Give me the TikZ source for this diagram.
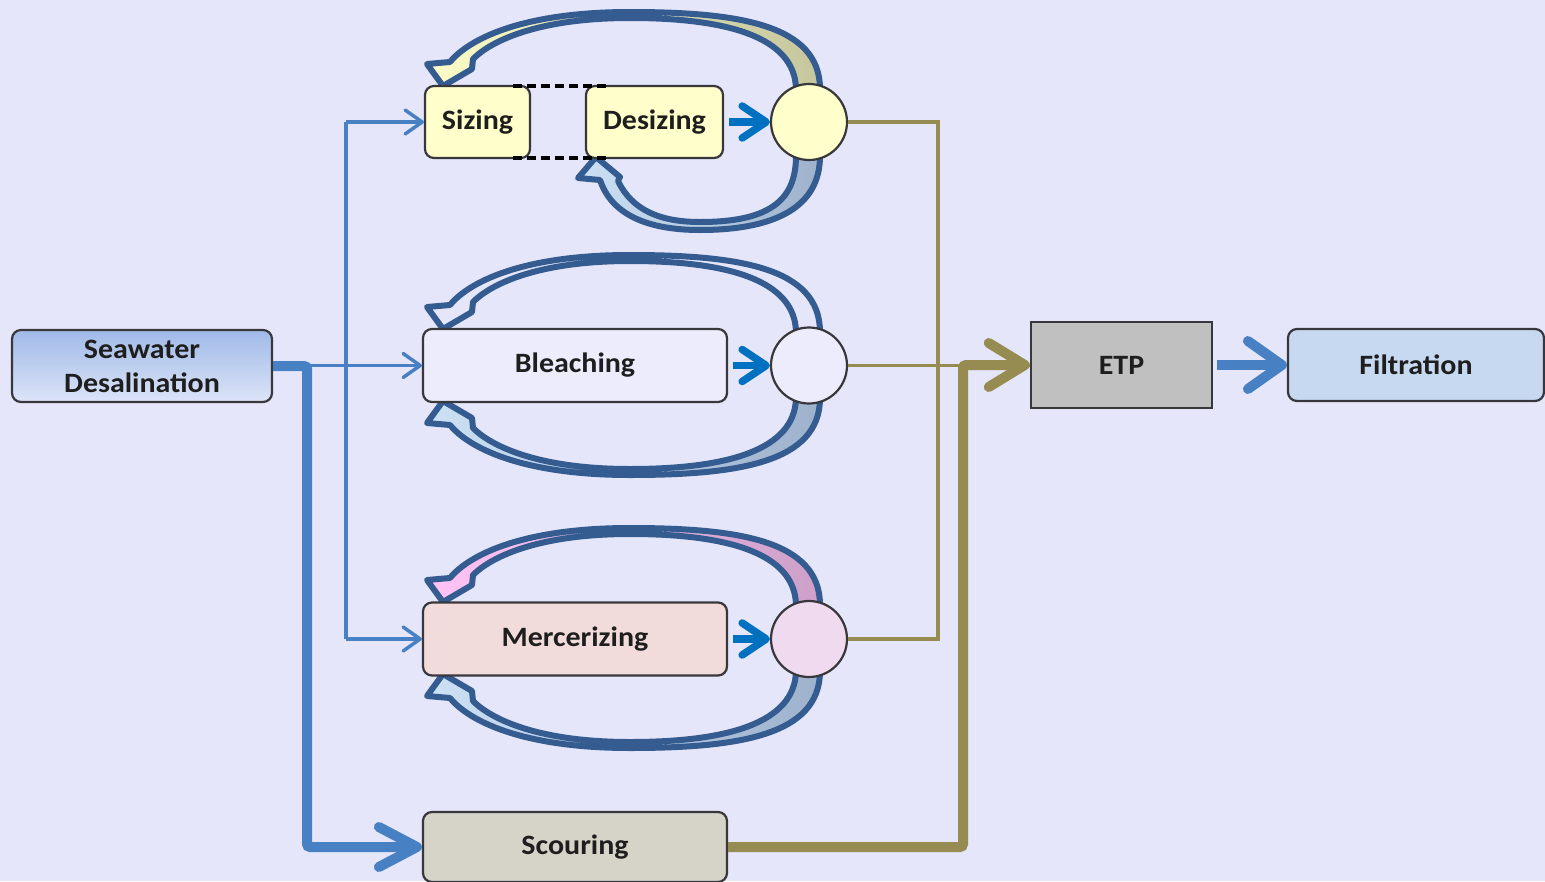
\documentclass[tikz,border=0pt]{standalone}
\usepackage{fontspec}
\setmainfont{Carlito}[FakeStretch=1.07]
\usetikzlibrary{arrows.meta}
\definecolor{bg}{RGB}{230,230,250}
\definecolor{boxline}{RGB}{55,55,60}
\definecolor{loopblue}{RGB}{52,92,145}
\definecolor{lineblue}{RGB}{72,128,196}
\definecolor{arrblue}{RGB}{0,112,192}
\definecolor{olive}{RGB}{150,140,82}
\definecolor{yel}{RGB}{255,255,204}
\definecolor{bleachfill}{RGB}{236,236,252}
\definecolor{mercfill}{RGB}{242,220,219}
\definecolor{mcirc}{RGB}{240,218,240}
\definecolor{scourfill}{RGB}{214,211,200}
\definecolor{etpfill}{RGB}{192,192,192}
\definecolor{filtfill}{RGB}{198,217,240}
\definecolor{seatop}{RGB}{160,186,232}
\definecolor{seabot}{RGB}{220,228,247}
\definecolor{yelA}{RGB}{252,252,200}
\definecolor{yelB}{RGB}{198,198,158}
\definecolor{bluA}{RGB}{205,225,245}
\definecolor{bluB}{RGB}{158,178,205}
\definecolor{pinkA}{RGB}{255,196,245}
\definecolor{pinkB}{RGB}{205,160,200}
\begin{document}
\begin{tikzpicture}[x=1pt,y=-1pt,
  box/.style={draw=boxline, line width=2.2pt, rounded corners=9pt, inner sep=0pt,
    font=\fontsize{28}{34}\selectfont\bfseries, align=center, text={rgb,255:red,30;green,30;blue,30}},
  circ/.style={circle, draw=boxline, line width=2.2pt, minimum size=76pt, inner sep=0pt},
  loopshape/.style={draw=loopblue, line width=6pt, line join=round},
  thinblue/.style={draw=lineblue, line width=3.5pt},
  thinarr/.style={thinblue, -{Straight Barb[length=17pt,width=24pt,round]}},
  thickblue/.style={draw=lineblue, line width=10pt, rounded corners=3pt, -{Straight Barb[length=38pt,width=40pt,round]}},
  shortarr/.style={draw=arrblue, line width=7.5pt, shorten <=5pt, -{Straight Barb[length=24pt,width=32pt,round]}},
  thinolive/.style={draw=olive, line width=3.5pt},
  thickolive/.style={draw=olive, line width=10pt, rounded corners=3pt, -{Straight Barb[length=36pt,width=44pt,round]}},
  bigarr/.style={draw=lineblue, line width=10pt, shorten <=4pt, -{Straight Barb[length=34pt,width=48pt,round]}}
]
\useasboundingbox (0,0) rectangle (1545,881);
\clip (0,0) rectangle (1545,881);
\fill[bg] (0,0) rectangle (1545,881);

% coordinates for connector bends
\coordinate (vthin) at (346,0);
\coordinate (vthick) at (307,0);
\coordinate (ox) at (938,0);
\coordinate (oT) at (963,0);

% ---- loops (drawn before boxes and circles) ----
\def\toploop{(450,62) -- (427,64) -- (443,86) -- (472,69) -- (473,59)
  .. controls (492,40) and (540,18) .. (630,18)
  .. controls (730,18) and (794,38) .. (796,88) -- (820,88)
  .. controls (819,25) and (740,12) .. (630,12)
  .. controls (520,12) and (468,40) .. (450,62) -- cycle}
% Sizing top loop
\draw[loopshape, left color=yelA, right color=yelB] \toploop;
% Sizing bottom loop (to Desizing)
\draw[loopshape, left color=bluA, right color=bluB]
  (600,180) -- (578,178) -- (596,157) -- (620,177) -- (618,181)
  .. controls (632,210) and (660,222) .. (700,222)
  .. controls (770,222) and (796,200) .. (796,156) -- (820,156)
  .. controls (820,210) and (770,230) .. (700,230)
  .. controls (640,230) and (610,210) .. (600,180) -- cycle;
% Bleaching loops
\begin{scope}[shift={(0,243)}]
  \draw[loopshape, fill=bg] \toploop;
\end{scope}
\begin{scope}[shift={(0,487)}, yscale=-1]
  \draw[loopshape, left color=bluA, right color=bluB] \toploop;
\end{scope}
% Mercerizing loops
\begin{scope}[shift={(0,516)}]
  \draw[loopshape, left color=pinkA, right color=pinkB] \toploop;
\end{scope}
\begin{scope}[shift={(0,760)}, yscale=-1]
  \draw[loopshape, left color=bluA, right color=bluB] \toploop;
\end{scope}

% ---- nodes ----
\node[box, minimum width=260pt, minimum height=72pt, top color=seatop, bottom color=seabot] (sea) at (142,366) {Seawater\\Desalination};
\node[box, minimum width=105pt, minimum height=72pt, fill=yel] (siz) at (477.5,122) {Sizing};
\node[box, minimum width=137pt, minimum height=72pt, fill=yel] (desiz) at (654.5,122) {Desizing};
\node[circ, fill=yel] (c1) at (809,122) {};
\node[box, minimum width=304pt, minimum height=73pt, fill=bleachfill] (bleach) at (575,365.5) {Bleaching};
\node[circ, fill=bleachfill] (c2) at (809,365.5) {};
\node[box, minimum width=304pt, minimum height=73pt, fill=mercfill] (merc) at (575,639) {Mercerizing};
\node[circ, fill=mcirc] (c3) at (809,639) {};
\node[box, minimum width=304pt, minimum height=70pt, fill=scourfill] (scour) at (575,847) {Scouring};
\node[box, rounded corners=0pt, line width=2.5pt, minimum width=181pt, minimum height=86pt, fill=etpfill] (etp) at (1121.5,365) {ETP};
\node[box, minimum width=256pt, minimum height=72pt, fill=filtfill] (filt) at (1416,365) {Filtration};

% dashed link between Sizing and Desizing
\draw[black, line width=3.5pt, dash pattern=on 9pt off 5pt] (513,86) -- (610,86);
\draw[black, line width=3.5pt, dash pattern=on 9pt off 5pt] (513,158) -- (610,158);

% ---- connectors ----
\draw[thinblue] (vthin |- siz.west) -- (vthin |- merc.west);
\draw[thinarr] (vthin |- siz.west) -- (siz.west);
\draw[thinarr] (vthin |- merc.west) -- (merc.west);
\draw[thinarr] (sea.east |- bleach.west) -- (bleach.west);
\draw[thickblue] (sea.east) -- (sea.east -| vthick) -- (vthick |- scour.west) -- (scour.west);

\draw[shortarr] (desiz.east) -- (c1.west);
\draw[shortarr] (bleach.east) -- (c2.west);
\draw[shortarr] (merc.east) -- (c3.west);

\draw[thinolive] (c1.east) -- (c1.east -| ox) -- (ox |- c3.east) -- (c3.east);
\draw[thinolive] (c2.east) -- (c2.east -| etp.west);
\draw[thickolive] (scour.east) -- (scour.east -| oT) -- (oT |- etp.west) -- (etp.west);
\draw[bigarr] (etp.east) -- (filt.west);
\end{tikzpicture}
\end{document}
